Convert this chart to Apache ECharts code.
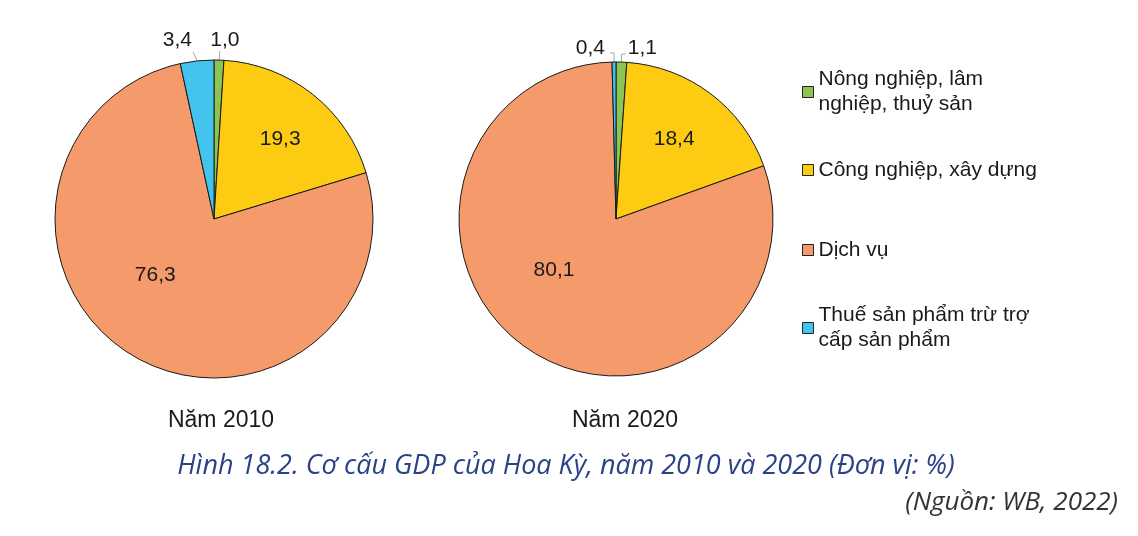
<!DOCTYPE html>
<html>
<head>
<meta charset="utf-8">
<script src="https://cdn.jsdelivr.net/npm/echarts@6/dist/echarts.min.js"></script>
<style>
html,body{margin:0;padding:0;background:#ffffff;}
#chart{width:1138px;height:536px;}
</style>
</head>
<body>
<div id="chart"></div>
<script>
// ---- data ----
const categories = [
  'Nông nghiệp, lâm\nnghiệp, thuỷ sản',
  'Công nghiệp, xây dựng',
  'Dịch vụ',
  'Thuế sản phẩm trừ trợ\ncấp sản phẩm'
];
const values2010 = [1.0, 19.3, 76.3, 3.4];
const values2020 = [1.1, 18.4, 80.1, 0.4];
const yearTitles = ['Năm 2010', 'Năm 2020'];
const captionText = 'Hình 18.2. Cơ cấu GDP của Hoa Kỳ, năm 2010 và 2020 (Đơn vị: %)';
const sourceText = '(Nguồn: WB, 2022)';

// ---- styles ----
const colors = ['#8CC652', '#FDCB12', '#F49A6B', '#42C4EF'];
const insideIdx = [1, 2];            // slices whose value label sits inside
const FONT = '"Liberation Sans", Arial, sans-serif';

function buildData(vals) {
  return categories.map((c, i) => {
    const d = { name: c, value: vals[i], itemStyle: { color: colors[i] } };
    if (insideIdx.indexOf(i) >= 0) {
      d.label = { position: 'inside' };
      d.labelLine = { show: false };
    }
    return d;
  });
}

// pixel nudges for labels (style only)
const shifts = [
  { 0: [-15, -10], 1: [15, -15], 2: [-17, -15], 3: [2, -11] },
  { 0: [0, -4], 1: [9, -15], 2: [-16, -16], 3: [-3, -4] }
];
// leader line shapes, as offsets from the slice-edge anchor (style only)
const leaderShapes = [
  { 0: [[1, -9]], 3: [[-4, -9]] },
  { 0: [[0, -8], [4, -8]], 3: [[0, -9], [-4, -9]] }
];

function pieSeries(vals, center, radius, si) {
  return {
    type: 'pie',
    center: center,
    radius: radius,
    startAngle: 90,
    clockwise: true,
    avoidLabelOverlap: true,
    silent: true,
    animation: false,
    itemStyle: { borderColor: '#1a1a1a', borderWidth: 1 },
    label: {
      show: true,
      position: 'outside',
      color: '#1a1a1a',
      fontFamily: FONT,
      fontSize: 21,
      distanceToLabelLine: 2,
      formatter: p => p.value.toFixed(1).replace('.', ',')
    },
    labelLine: {
      show: true,
      length: 10,
      length2: 4,
      smooth: false,
      lineStyle: { color: '#a5a5a5', width: 1 }
    },
    labelLayout: function (params) {
      const s = shifts[si][params.dataIndex];
      if (!s) return {};
      if (insideIdx.indexOf(params.dataIndex) >= 0) return { dx: s[0], dy: s[1] };
      const r = params.labelRect;
      const out = {
        x: r.x + r.width / 2 + s[0],
        y: r.y + r.height / 2 + s[1],
        align: 'center',
        verticalAlign: 'middle'
      };
      const shape = leaderShapes[si][params.dataIndex];
      if (shape && params.labelLinePoints && params.labelLinePoints.length) {
        const p0 = params.labelLinePoints[0];
        const pts = [[p0[0], p0[1]]];
        shape.forEach(o => pts.push([p0[0] + o[0], p0[1] + o[1]]));
        out.labelLinePoints = pts;
      }
      return out;
    },
    emphasis: { disabled: true },
    data: buildData(vals)
  };
}

function legendFor(i, top, twoLine) {
  return {
    show: true,
    orient: 'vertical',
    left: 802,
    top: top,
    padding: 0,
    itemWidth: 11,
    itemHeight: 11,
    itemGap: 0,
    selectedMode: false,
    icon: 'rect',
    itemStyle: { borderColor: '#222', borderWidth: 1 },
    textStyle: {
      fontFamily: FONT,
      fontSize: 21,
      color: '#1a1a1a',
      lineHeight: 25,
      padding: twoLine ? [25, 0, 0, 0] : 0
    },
    data: [categories[i]]
  };
}

const chart = echarts.init(document.getElementById('chart'), null, { renderer: 'canvas' });
chart.setOption({
  backgroundColor: '#ffffff',
  animation: false,
  legend: [
    legendFor(0, 54.5, true),
    legendFor(1, 157.5, false),
    legendFor(2, 237.5, false),
    legendFor(3, 290.5, true)
  ],
  series: [
    pieSeries(values2010, [214, 219], 159, 0),
    pieSeries(values2020, [616, 219], 157, 1)
  ],
  graphic: [
    { type: 'text', x: 221, y: 421, style: { text: yearTitles[0], font: '23px ' + FONT, fill: '#1a1a1a', align: 'center', verticalAlign: 'middle' } },
    { type: 'text', x: 625, y: 421, style: { text: yearTitles[1], font: '23px ' + FONT, fill: '#1a1a1a', align: 'center', verticalAlign: 'middle' } },
    { type: 'text', x: 566, y: 466, style: { text: captionText, font: 'italic 27px "Open Sans", sans-serif', fill: '#2b4289', align: 'center', verticalAlign: 'middle' } },
    { type: 'text', x: 1118, y: 503, style: { text: sourceText, font: 'italic 26px "Open Sans", sans-serif', fill: '#333333', align: 'right', verticalAlign: 'middle' } }
  ]
});
</script>
</body>
</html>
